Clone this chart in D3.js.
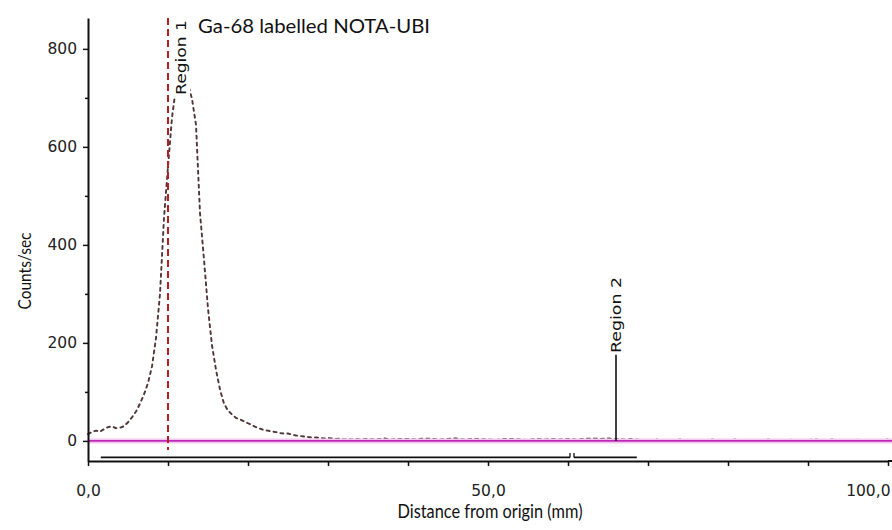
<!DOCTYPE html>
<html>
<head>
<meta charset="utf-8">
<script src="https://cdn.jsdelivr.net/npm/d3@7"></script>
<style>
  html, body { margin: 0; padding: 0; background: #fff; }
  svg { display: block; }
</style>
</head>
<body>
<svg id="chart" width="892" height="530"></svg>
<script>
// Radio-TLC scan: distance from origin (mm) vs. counts/sec
const distanceMm = [
  0, 0.5, 1, 1.5, 2, 2.5, 3, 3.5, 4, 4.5, 5, 5.5, 6, 6.5, 7, 7.5, 8, 8.5, 9, 9.5,
  10, 10.5, 11, 11.5, 12, 12.5, 13, 13.5, 14, 14.5, 15, 15.5, 16, 16.5, 17, 17.5,
  18, 18.5, 19, 19.5, 20, 20.5, 21, 21.5, 22, 22.5, 23, 23.5, 24, 24.5, 25, 25.5,
  26, 26.5, 27, 27.5, 28, 28.5, 29, 29.5, 30, 30.5, 31, 31.5, 32, 32.5, 33, 33.5,
  34, 35, 36, 37, 38, 39, 40, 41, 42, 43, 44, 45, 46, 47, 48, 49, 50, 51, 52, 53,
  54, 55, 56, 57, 58, 59, 60, 61, 62, 63, 64, 65, 66, 67, 68, 69, 70, 71, 72, 73,
  74, 75, 76, 77, 78, 79, 80, 81, 82, 83, 84, 85, 86, 87, 88, 89, 90, 91, 92, 93,
  94, 95, 96, 97, 98, 99, 100
];
const countsPerSec = [
  14, 18, 21, 19, 24, 28, 30, 26, 27, 30, 38, 48, 60, 76, 95, 118, 152, 210, 300, 455,
  560, 660, 722, 752, 748, 728, 698, 645, 465, 370, 270, 195, 145, 105, 76, 62,
  54, 47, 44, 40, 36, 32, 28, 25, 22, 21, 19, 18, 16, 15, 15, 13,
  11, 10, 9, 8, 7, 7, 6, 5, 6, 5, 4, 5, 3, 4, 3, 4,
  3, 4, 3, 5, 3, 4, 4, 3, 5, 4, 3, 4, 5, 3, 4, 4, 3, 2, 4, 4,
  3, 2, 4, 3, 4, 3, 4, 3, 4, 5, 4, 5, 4, 3, 4, 2, 0, 3, 0, 0,
  3, 0, 2, 0, 3, 0, 0, 3, 0, 2, 0, 3, 0, 0, 3, 0, 2, 3, 0, 3,
  0, 0, 3, 0, 2, 0, 3
];

// Integration regions: marker position, bracket start / end (mm), marker height (counts)
const regionNames   = ["Region 1", "Region 2"];
const regionMarker  = [10, 66];
const regionStart   = [1.6, 60.75];
const regionEnd     = [60.25, 68.6];
const markerTop     = [863, 176];

const yMajorTicks = [0, 200, 400, 600, 800];
const yMinorTicks = [100, 300, 500, 700];
const xTicks      = [0, 10, 20, 30, 40, 50, 60, 70, 80, 90, 100];
const xLabelled   = [0, 50, 100];

const chartTitle = "Ga-68 labelled NOTA-UBI";
const xTitle = "Distance from origin (mm)";
const yTitle = "Counts/sec";

const svg = d3.select("#chart");
const x = d3.scaleLinear().domain([0, 100]).range([88, 888]);
const y = d3.scaleLinear().domain([-41, 863]).range([461, 18]);

const tickFont = "'DejaVu Sans', Verdana, sans-serif";
const titleFont = "Lato, 'Open Sans', sans-serif";

// Trace (drawn first so the zero line sits on top of it)
const line = d3.line().x((d, i) => x(distanceMm[i])).y(d => y(d));
svg.append("path")
  .datum(countsPerSec)
  .attr("d", line)
  .attr("fill", "none")
  .attr("stroke", "#3d2020")
  .attr("stroke-width", 1.9)
  .attr("stroke-dasharray", "3,4")
  .attr("stroke-linecap", "round")
  .attr("opacity", 0.9);

// Zero baseline
svg.append("line")
  .attr("x1", x(0)).attr("x2", 892)
  .attr("y1", y(0)).attr("y2", y(0))
  .attr("stroke", "#f2c8ef").attr("stroke-width", 5);
svg.append("line")
  .attr("x1", x(0)).attr("x2", 892)
  .attr("y1", y(0)).attr("y2", y(0))
  .attr("stroke", "#c02ab8").attr("stroke-width", 1.6);

// Region 1 marker (dashed) and Region 2 marker (solid)
svg.append("line")
  .attr("x1", x(regionMarker[0])).attr("x2", x(regionMarker[0]))
  .attr("y1", y(markerTop[0])).attr("y2", y(0) + 9)
  .attr("stroke", "#b52025").attr("stroke-width", 2)
  .attr("stroke-dasharray", "7,4");
svg.append("line")
  .attr("x1", x(regionMarker[1])).attr("x2", x(regionMarker[1]))
  .attr("y1", y(markerTop[1])).attr("y2", y(0))
  .attr("stroke", "#111").attr("stroke-width", 1.6);

// Region labels
const lbl1 = svg.append("g")
  .attr("transform", `translate(${x(regionMarker[0]) + 18},95) rotate(-90)`);
lbl1.append("rect")
  .attr("x", -1).attr("y", -12).attr("width", 76).attr("height", 16)
  .attr("fill", "#fff");
lbl1.append("text")
  .attr("x", 0).attr("y", 0)
  .attr("font-family", tickFont).attr("font-size", 14.5)
  .attr("fill", "#111")
  .attr("textLength", 75).attr("lengthAdjust", "spacingAndGlyphs")
  .text(regionNames[0]);

svg.append("text")
  .attr("transform", `translate(${x(regionMarker[1]) + 5},353) rotate(-90)`)
  .attr("font-family", tickFont).attr("font-size", 14.5)
  .attr("fill", "#111")
  .attr("textLength", 76).attr("lengthAdjust", "spacingAndGlyphs")
  .text(regionNames[1]);

// Region brackets below the trace
const bracketY = y(0) + 16.5;
regionNames.forEach((name, i) => {
  svg.append("line")
    .attr("x1", x(regionStart[i])).attr("x2", x(regionEnd[i]))
    .attr("y1", bracketY).attr("y2", bracketY)
    .attr("stroke", "#111").attr("stroke-width", 1.6);
});
// junction ticks where the two regions meet
[regionEnd[0], regionStart[1]].forEach(v => {
  svg.append("line")
    .attr("x1", x(v)).attr("x2", x(v))
    .attr("y1", bracketY).attr("y2", bracketY - 4.5)
    .attr("stroke", "#111").attr("stroke-width", 1.3);
});

// Y axis
const yAxis = svg.append("g")
  .attr("transform", `translate(${x(0)},0)`)
  .call(d3.axisLeft(y).tickValues(yMajorTicks).tickSize(5).tickSizeOuter(0).tickPadding(6));
yAxis.select(".domain").attr("stroke", "#111").attr("stroke-width", 2);
yAxis.selectAll(".tick line").attr("stroke", "#111").attr("stroke-width", 1.5);
yAxis.selectAll(".tick text")
  .attr("font-family", tickFont).attr("font-size", 15.5).attr("fill", "#222");
svg.append("g")
  .attr("transform", `translate(${x(0)},0)`)
  .call(d3.axisLeft(y).tickValues(yMinorTicks).tickSize(3).tickFormat(""))
  .call(g => g.select(".domain").remove())
  .selectAll(".tick line").attr("stroke", "#111").attr("stroke-width", 1.5);

// X axis
const xAxis = svg.append("g")
  .attr("transform", `translate(0,${y(-41)})`)
  .call(d3.axisBottom(x).tickValues(xTicks).tickSize(5).tickSizeOuter(0).tickPadding(19)
    .tickFormat(d => xLabelled.includes(d) ? d3.format(".1f")(d).replace(".", ",") : ""));
xAxis.select(".domain").attr("stroke", "#111").attr("stroke-width", 2);
xAxis.selectAll(".tick line").attr("stroke", "#111").attr("stroke-width", 1.5);
xAxis.selectAll(".tick text")
  .attr("font-family", tickFont).attr("font-size", 15.5).attr("fill", "#222")
  .attr("text-anchor", d => d === 100 ? "end" : "middle")
  .attr("dx", d => d === 100 ? 2 : 0);
svg.append("line")
  .attr("x1", x(100)).attr("x2", 892)
  .attr("y1", y(-41)).attr("y2", y(-41))
  .attr("stroke", "#111").attr("stroke-width", 2);

// Titles
svg.append("text")
  .attr("x", 198).attr("y", 33)
  .attr("font-family", titleFont).attr("font-size", 18.5)
  .attr("fill", "#111")
  .attr("textLength", 232).attr("lengthAdjust", "spacingAndGlyphs")
  .text(chartTitle);

svg.append("text")
  .attr("x", 490).attr("y", 518)
  .attr("text-anchor", "middle")
  .attr("font-family", titleFont).attr("font-size", 18.5)
  .attr("fill", "#111")
  .attr("textLength", 185).attr("lengthAdjust", "spacingAndGlyphs")
  .text(xTitle);

svg.append("text")
  .attr("transform", "translate(31,271) rotate(-90)")
  .attr("text-anchor", "middle")
  .attr("font-family", titleFont).attr("font-size", 18)
  .attr("fill", "#111")
  .attr("textLength", 77).attr("lengthAdjust", "spacingAndGlyphs")
  .text(yTitle);
</script>
</body>
</html>
